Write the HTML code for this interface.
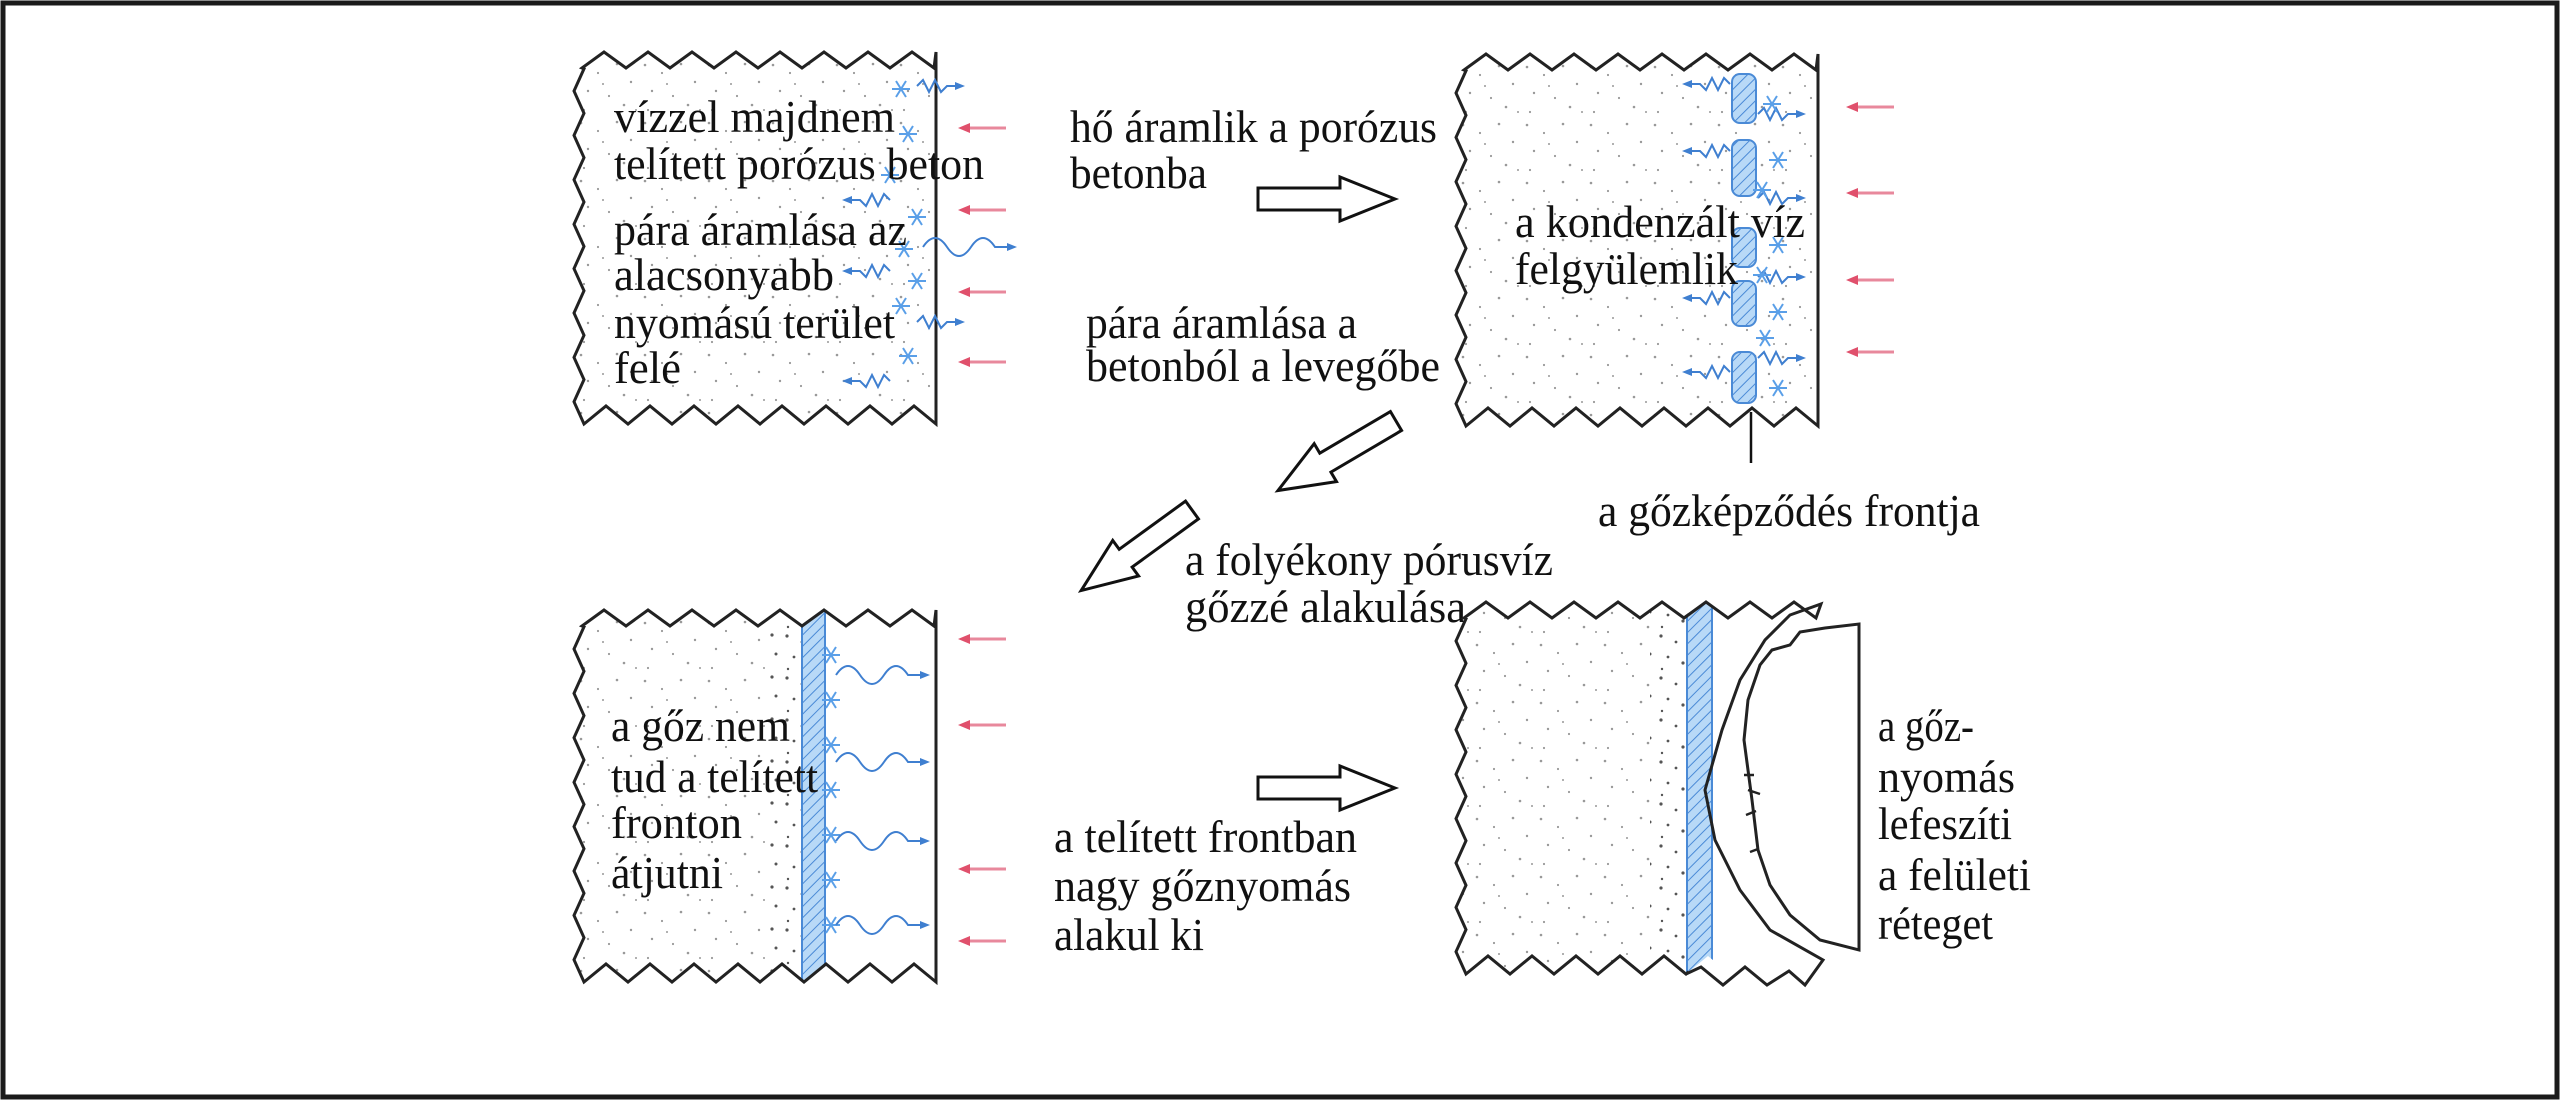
<!DOCTYPE html>
<html><head><meta charset="utf-8"><style>
html,body{margin:0;padding:0;background:#fff;}
svg{display:block;}
text{font-family:"Liberation Serif",serif;font-size:46px;fill:#111;}
</style></head><body>
<svg width="2560" height="1100" viewBox="0 0 2560 1100" xmlns="http://www.w3.org/2000/svg">
<defs>
<pattern id="dots" width="64" height="58" patternUnits="userSpaceOnUse">
<rect width="64" height="58" fill="#fff"/>
<g fill="#999"><circle cx="5" cy="7" r="1.3"/><circle cx="22" cy="15" r="1.1"/><circle cx="41" cy="6" r="1.3"/><circle cx="55" cy="24" r="1.2"/><circle cx="12" cy="33" r="1.2"/><circle cx="33" cy="38" r="1.1"/><circle cx="48" cy="47" r="1.3"/><circle cx="8" cy="52" r="1.1"/><circle cx="27" cy="26" r="1"/><circle cx="60" cy="52" r="1"/></g>
</pattern>
<pattern id="dots2" width="46" height="42" patternUnits="userSpaceOnUse">
<rect width="46" height="42" fill="#fff"/>
<g fill="#555"><circle cx="5" cy="6" r="1.6"/><circle cx="20" cy="12" r="1.4"/><circle cx="36" cy="5" r="1.6"/><circle cx="40" cy="24" r="1.5"/><circle cx="12" cy="27" r="1.4"/><circle cx="27" cy="33" r="1.6"/><circle cx="6" cy="39" r="1.2"/></g>
</pattern>
<pattern id="hatch" width="8" height="8" patternUnits="userSpaceOnUse" patternTransform="rotate(45)">
<rect width="8" height="8" fill="#b8d9f7"/><line x1="0" y1="0" x2="0" y2="8" stroke="#4a8ad6" stroke-width="2"/>
</pattern>
<marker id="bh" markerWidth="10" markerHeight="10" refX="6" refY="4" orient="auto" markerUnits="userSpaceOnUse"><path d="M0,0 L10,4 L0,8z" fill="#3f7fd0"/></marker>
<path id="panel" d="M582,68 l22,-16 l22,16 l22,-16 l22,16 l22,-16 l22,16 l22,-16 l22,16 l22,-16 l22,16 l22,-16 l22,16 l22,-16 l22,16 l22,-16 l22,16 L936,52 L936,424 l-22,-18 l-22,18 l-22,-18 l-22,18 l-22,-18 l-22,18 l-22,-18 l-22,18 l-22,-18 l-22,18 l-22,-18 l-22,18 l-22,-18 l-22,18 l-22,-18 l-22,18 l-10,-22.2 l10,-22.2 l-10,-22.2 l10,-22.2 l-10,-22.2 l10,-22.2 l-10,-22.2 l10,-22.2 l-10,-22.2 l10,-22.2 l-10,-22.2 l10,-22.2 l-10,-22.2 l10,-22.2 l-10,-22.2 l10,-22.2 Z"/>
<g id="sf" stroke="#5a9fe8" stroke-width="2"><line x1="-9" y1="0" x2="9" y2="0"/><line x1="-5" y1="-8" x2="5" y2="8"/><line x1="-5" y1="8" x2="5" y2="-8"/></g>
<path id="wv" d="M0,0 l6,-6 l6,12 l6,-12 l6,12 l6,-6 l14,0" fill="none" stroke="#3f7fd0" stroke-width="2" marker-end="url(#bh)"/>
<path id="wvl" d="M50,0 l-6,-6 l-6,12 l-6,-12 l-6,12 l-6,-6 l-14,0" fill="none" stroke="#3f7fd0" stroke-width="2" marker-end="url(#bh)"/>
<path id="wvL" d="M0,0 q12,-18 24,0 t24,0 t24,0 l18,0" fill="none" stroke="#3f7fd0" stroke-width="2" marker-end="url(#bh)"/>
<g id="pk"><line x1="8" y1="0" x2="48" y2="0" stroke="#e8889c" stroke-width="3"/><path d="M0,0 L12,-5 L12,5z" fill="#e0506c"/></g>
<polygon id="ha" points="0,-11 82,-11 82,-22 137,0 82,22 82,11 0,11" fill="#fff" stroke="#111" stroke-width="3"/>
<clipPath id="leftp4"><rect x="1400" y="580" width="288" height="440"/></clipPath>
</defs>
<rect x="3" y="3" width="2554" height="1094" fill="#fff" stroke="#1a1a1a" stroke-width="5"/>

<!-- Panel 1 -->
<use href="#panel" fill="url(#dots)" stroke="#222" stroke-width="3"/>
<use href="#sf" x="901" y="89"/><use href="#sf" x="908" y="134"/><use href="#sf" x="917" y="217"/><use href="#sf" x="904" y="249"/><use href="#sf" x="917" y="281"/><use href="#sf" x="901" y="306"/><use href="#sf" x="908" y="356"/><use href="#sf" x="890" y="175"/>
<use href="#wv" x="917" y="86"/><use href="#wvl" x="840" y="200"/><use href="#wvL" x="923" y="247"/><use href="#wvl" x="840" y="271"/><use href="#wv" x="917" y="322"/><use href="#wvl" x="840" y="381"/>
<use href="#pk" x="958" y="128"/><use href="#pk" x="958" y="210"/><use href="#pk" x="958" y="292"/><use href="#pk" x="958" y="362"/>
<text x="614" y="132" textLength="281" lengthAdjust="spacingAndGlyphs">vízzel majdnem</text>
<text x="614" y="179" textLength="370" lengthAdjust="spacingAndGlyphs">telített porózus beton</text>
<text x="614" y="245" textLength="293" lengthAdjust="spacingAndGlyphs">pára áramlása az</text>
<text x="614" y="290" textLength="220" lengthAdjust="spacingAndGlyphs">alacsonyabb</text>
<text x="614" y="338" textLength="281" lengthAdjust="spacingAndGlyphs">nyomású terület</text>
<text x="614" y="383" textLength="67" lengthAdjust="spacingAndGlyphs">felé</text>

<!-- middle top -->
<text x="1070" y="142" textLength="367" lengthAdjust="spacingAndGlyphs">hő áramlik a porózus</text>
<text x="1070" y="188" textLength="137" lengthAdjust="spacingAndGlyphs">betonba</text>
<use href="#ha" transform="translate(1258,199)"/>
<text x="1086" y="338" textLength="271" lengthAdjust="spacingAndGlyphs">pára áramlása a</text>
<text x="1086" y="381" textLength="354" lengthAdjust="spacingAndGlyphs">betonból a levegőbe</text>
<use href="#ha" transform="translate(1396,421) rotate(149.5)"/>

<!-- Panel 2 -->
<use href="#panel" transform="translate(882,2)" fill="url(#dots)" stroke="#222" stroke-width="3"/>
<g fill="url(#hatch)" stroke="#4a8ad6" stroke-width="2">
<rect x="1732" y="74" width="24" height="49" rx="8"/><rect x="1732" y="140" width="24" height="56" rx="8"/><rect x="1732" y="228" width="24" height="39" rx="8"/><rect x="1732" y="281" width="24" height="45" rx="8"/><rect x="1732" y="352" width="24" height="51" rx="8"/>
</g>
<use href="#wvl" x="1680" y="84"/><use href="#wvl" x="1680" y="151"/><use href="#wvl" x="1680" y="298"/><use href="#wvl" x="1680" y="372"/>
<use href="#wv" x="1758" y="114"/><use href="#wv" x="1758" y="198"/><use href="#wv" x="1758" y="277"/><use href="#wv" x="1758" y="358"/>
<use href="#sf" x="1772" y="104"/><use href="#sf" x="1778" y="160"/><use href="#sf" x="1762" y="190"/><use href="#sf" x="1778" y="245"/><use href="#sf" x="1762" y="275"/><use href="#sf" x="1778" y="312"/><use href="#sf" x="1765" y="338"/><use href="#sf" x="1778" y="388"/>
<use href="#pk" x="1846" y="107"/><use href="#pk" x="1846" y="193"/><use href="#pk" x="1846" y="280"/><use href="#pk" x="1846" y="352"/>
<text x="1515" y="237" textLength="290" lengthAdjust="spacingAndGlyphs">a kondenzált víz</text>
<text x="1515" y="284" textLength="223" lengthAdjust="spacingAndGlyphs">felgyülemlik</text>
<line x1="1751" y1="412" x2="1751" y2="463" stroke="#111" stroke-width="2.5"/>
<text x="1598" y="526" textLength="382" lengthAdjust="spacingAndGlyphs">a gőzképződés frontja</text>

<!-- middle arrow + text -->
<use href="#ha" transform="translate(1192,510) rotate(144)"/>
<text x="1185" y="575" textLength="368" lengthAdjust="spacingAndGlyphs">a folyékony pórusvíz</text>
<text x="1185" y="622" textLength="281" lengthAdjust="spacingAndGlyphs">gőzzé alakulása</text>

<!-- Panel 3 -->
<clipPath id="c3"><use href="#panel" transform="translate(0,558)"/></clipPath>
<use href="#panel" transform="translate(0,558)" fill="url(#dots)" stroke="none"/>
<g clip-path="url(#c3)">
<rect x="768" y="600" width="34" height="410" fill="url(#dots2)"/>
<rect x="825" y="600" width="120" height="410" fill="#fff"/>
<rect x="802" y="600" width="23" height="410" fill="url(#hatch)" stroke="#4a8ad6" stroke-width="2"/>
</g>
<use href="#panel" transform="translate(0,558)" fill="none" stroke="#222" stroke-width="3"/>
<use href="#sf" x="831" y="655"/><use href="#sf" x="831" y="700"/><use href="#sf" x="831" y="745"/><use href="#sf" x="831" y="790"/><use href="#sf" x="831" y="835"/><use href="#sf" x="831" y="880"/><use href="#sf" x="831" y="925"/>
<use href="#wvL" x="836" y="675"/><use href="#wvL" x="836" y="762"/><use href="#wvL" x="836" y="841"/><use href="#wvL" x="836" y="925"/>
<use href="#pk" x="958" y="639"/><use href="#pk" x="958" y="725"/><use href="#pk" x="958" y="869"/><use href="#pk" x="958" y="941"/>
<text x="611" y="741" textLength="179" lengthAdjust="spacingAndGlyphs">a gőz nem</text>
<text x="611" y="792" textLength="207" lengthAdjust="spacingAndGlyphs">tud a telített</text>
<text x="611" y="838" textLength="131" lengthAdjust="spacingAndGlyphs">fronton</text>
<text x="611" y="888" textLength="112" lengthAdjust="spacingAndGlyphs">átjutni</text>

<use href="#ha" transform="translate(1258,788)"/>
<text x="1054" y="852" textLength="303" lengthAdjust="spacingAndGlyphs">a telített frontban</text>
<text x="1054" y="901" textLength="297" lengthAdjust="spacingAndGlyphs">nagy gőznyomás</text>
<text x="1054" y="950" textLength="150" lengthAdjust="spacingAndGlyphs">alakul ki</text>

<!-- Panel 4 -->
<clipPath id="c4"><use href="#panel" transform="translate(882,550)"/></clipPath>
<g clip-path="url(#c4)">
<rect x="1460" y="590" width="230" height="410" fill="url(#dots)"/>
<rect x="1650" y="590" width="37" height="410" fill="url(#dots2)"/>
<rect x="1712" y="590" width="120" height="410" fill="#fff"/>
<rect x="1687" y="590" width="25" height="410" fill="url(#hatch)" stroke="#4a8ad6" stroke-width="2"/>
</g>
<g clip-path="url(#leftp4)"><use href="#panel" transform="translate(882,550)" fill="none" stroke="#222" stroke-width="3"/></g>
<path d="M1684,618 l22,-16 l22,16 l22,-16 l22,16 l22,-16 l22,16 L1821,604 L1790,615 L1765,640 L1740,680 L1722,730 L1705,790 L1715,840 L1740,890 L1770,930 L1823,960 L1805,985 l-16,-14 l-22,14 l-22,-18 l-22,18 l-22,-18 l-15,7" fill="none" stroke="#222" stroke-width="3"/>
<path d="M1859,624 L1859,950 L1820,940 L1790,915 L1770,885 L1758,850 L1752,800 L1748,770 L1744,740 L1748,700 L1760,665 L1772,650 L1790,645 L1800,632 L1825,628 Z" fill="#fff" stroke="#222" stroke-width="3"/>
<path d="M1744,775 l10,0 M1746,815 l10,-4 M1750,852 l8,-3 M1748,790 l12,4" stroke="#222" stroke-width="2.5" fill="none"/>
<text x="1878" y="741" textLength="96" lengthAdjust="spacingAndGlyphs">a gőz-</text>
<text x="1878" y="792" textLength="137" lengthAdjust="spacingAndGlyphs">nyomás</text>
<text x="1878" y="839" textLength="134" lengthAdjust="spacingAndGlyphs">lefeszíti</text>
<text x="1878" y="890" textLength="153" lengthAdjust="spacingAndGlyphs">a felületi</text>
<text x="1878" y="939" textLength="115" lengthAdjust="spacingAndGlyphs">réteget</text>
</svg>
</body></html>
